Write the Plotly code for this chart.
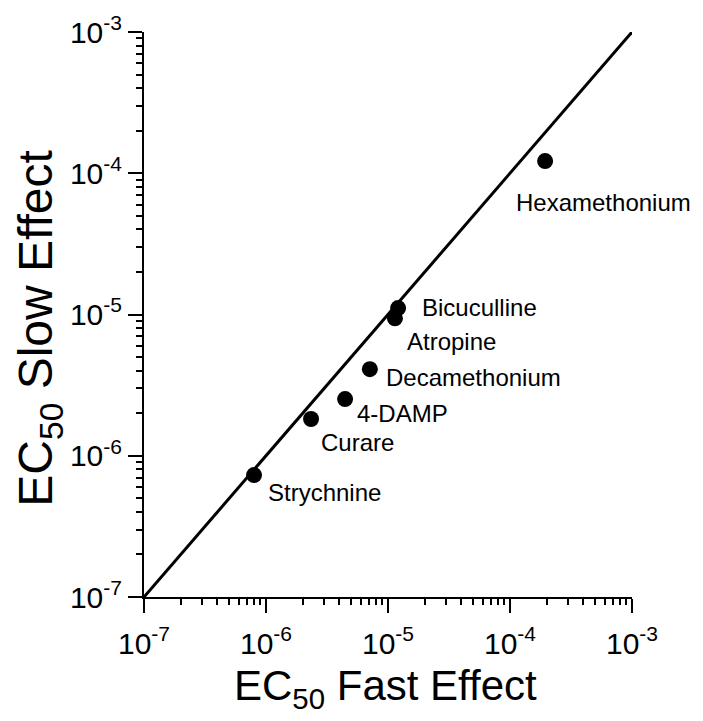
import math
import plotly.graph_objects as go

# ---- data ----
drugs = ["Hexamethonium", "Bicuculline", "Atropine", "Decamethonium", "4-DAMP", "Curare", "Strychnine"]
ec50_fast = [1.94e-4, 1.21e-5, 1.14e-5, 7.1e-6, 4.45e-6, 2.34e-6, 7.98e-7]
ec50_slow = [1.22e-4, 1.11e-5, 9.4e-6, 4.1e-6, 2.52e-6, 1.82e-6, 7.3e-7]
# label offsets in pixels (dx right, dy down) relative to each point
label_dx = [-31, 22, 10, 14, 10, 8, 12]
label_dy = [41, -1, 23, 8, 14, 23, 17]

identity_x = [1e-7, 1e-3]
identity_y = [1e-7, 1e-3]

major_vals = [1e-7, 1e-6, 1e-5, 1e-4, 1e-3]
major_text = ["10<sup>-7</sup>", "10<sup>-6</sup>", "10<sup>-5</sup>", "10<sup>-4</sup>", "10<sup>-3</sup>"]
minor_vals = [m * d for d in [1e-7, 1e-6, 1e-5, 1e-4] for m in range(2, 10)]

FONT = "Liberation Sans, Arial, Helvetica, sans-serif"

fig = go.Figure()
fig.add_trace(go.Scatter(x=identity_x, y=identity_y, mode="lines",
                         line=dict(color="black", width=3), hoverinfo="skip",
                         cliponaxis=False))
fig.add_trace(go.Scatter(x=ec50_fast, y=ec50_slow, mode="markers",
                         marker=dict(color="black", size=16), text=drugs,
                         cliponaxis=False))

for name, xv, yv, dx, dy in zip(drugs, ec50_fast, ec50_slow, label_dx, label_dy):
    fig.add_annotation(x=math.log10(xv), y=math.log10(yv), xref="x", yref="y",
                       text=name, showarrow=False,
                       xanchor="left", yanchor="middle", xshift=dx, yshift=-dy,
                       font=dict(family=FONT, size=24, color="black"))

axis_common = dict(
    type="log", showgrid=False, zeroline=False, showline=True, linecolor="black",
    linewidth=2, mirror=False, ticks="outside", ticklen=14, tickwidth=2,
    tickcolor="black", tickmode="array", tickvals=major_vals, ticktext=major_text,
    tickfont=dict(family=FONT, size=30, color="black"),
    minor=dict(tickmode="array", tickvals=minor_vals, ticks="outside", ticklen=6,
               tickwidth=1.5, tickcolor="black", showgrid=False),
)
fig.update_xaxes(range=[-7, -3], ticklabelstandoff=5, **axis_common)
fig.update_yaxes(range=[-7, -3], **axis_common)

# axis titles
fig.add_annotation(xref="paper", yref="paper", x=0.494, y=-0.162, showarrow=False,
                   text="EC<sub>50</sub> Fast Effect", xanchor="center", yanchor="middle",
                   font=dict(family=FONT, size=42, color="black"))
fig.add_annotation(xref="paper", yref="paper", x=-0.215, y=0.475, showarrow=False,
                   text="EC<sub>50</sub> Slow Effect", textangle=-90,
                   xanchor="center", yanchor="middle",
                   font=dict(family=FONT, size=48, color="black"))

fig.update_layout(
    width=703, height=721, showlegend=False,
    margin=dict(l=144, r=71, t=32, b=124),
    paper_bgcolor="white", plot_bgcolor="white",
)

fig.write_html("out.html")
